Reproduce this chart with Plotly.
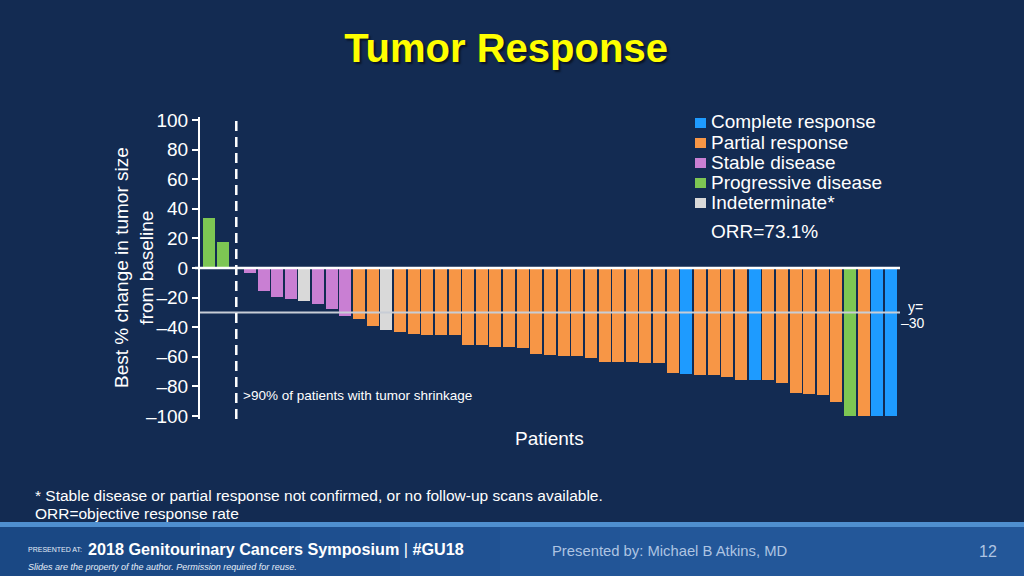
import plotly.graph_objects as go

# ---------------- data ----------------
categories = ["PD", "PD",
              "SD", "SD", "SD", "SD", "IND", "SD", "SD", "SD",
              "PR", "PR", "IND", "PR", "PR", "PR", "PR", "PR",
              "PR", "PR", "PR", "PR", "PR", "PR", "PR", "PR", "PR", "PR",
              "PR", "PR", "PR", "PR", "PR", "PR",
              "CR", "PR", "PR", "PR", "PR", "CR", "PR", "PR",
              "PR", "PR", "PR", "PR", "PD", "PR", "CR", "CR"]
values = [33.5, 17.4,
          -3.6, -15.4, -19.7, -21.0, -22.0, -24.0, -28.0, -32.4,
          -34.5, -39.0, -41.7, -43.5, -44.8, -45.0, -45.2, -45.2,
          -52.0, -52.0, -53.2, -53.5, -54.0, -58.0, -58.6, -59.7, -59.7, -60.8,
          -63.3, -63.3, -63.3, -64.2, -64.2, -70.7,
          -71.4, -72.0, -72.0, -73.4, -75.8, -75.8, -75.8, -77.9,
          -84.4, -85.0, -85.7, -90.5, -100.0, -100.0, -100.0, -100.0]

legend_keys = ["CR", "PR", "SD", "PD", "IND"]
legend_labels = ["Complete response", "Partial response", "Stable disease",
                 "Progressive disease", "Indeterminate*"]
colors = {"CR": "#1e9bff", "PR": "#f79646", "SD": "#c97fd3",
          "PD": "#7dc653", "IND": "#d9d9d9"}

y_tickvals = [100, 80, 60, 40, 20, 0, -20, -40, -60, -80, -100]
y_ticktext = ["100", "80", "60", "40", "20", "0",
              "\u201320", "\u201340", "\u201360", "\u201380", "\u2013100"]

ORR_TEXT = "ORR=73.1%"
THRESHOLD = -30
DIVIDER_AFTER = 2  # number of bars before the dashed divider

# ---------------- layout helpers ----------------
BG = "#132b52"
WHITE = "#ffffff"
FONT = "Liberation Sans, Arial, sans-serif"
NARROW = "Liberation Sans Narrow, Arial Narrow, Liberation Sans, sans-serif"
L, R, T, B = 200, 124, 117, 157
W, H = 1024, 576
PW, PH = W - L - R, H - T - B


def pxx(x):
    return (x - L) / PW


def pxy(y):
    return (H - B - y) / PH


# bar slot positions: one empty slot where the dashed divider sits
positions = [i if i < DIVIDER_AFTER else i + 1 for i in range(len(values))]

fig = go.Figure()
for key, label in zip(legend_keys, legend_labels):
    xs = [p for p, c in zip(positions, categories) if c == key]
    ys = [v for v, c in zip(values, categories) if c == key]
    fig.add_bar(x=xs, y=ys, name=label, width=0.88,
                marker=dict(color=colors[key], line=dict(width=0)),
                showlegend=False, hovertemplate="%{y}%<extra>" + label + "</extra>")

shapes = []
# footer band (stepped horizontal gradient)
shapes.append(dict(type="rect", xref="paper", yref="paper",
                   x0=pxx(-2), x1=pxx(W + 2), y0=pxy(H + 2), y1=pxy(524),
                   fillcolor="#1a4884", line=dict(width=0), layer="below"))
steps = [(200, 0.12), (300, 0.12), (400, 0.12), (500, 0.12), (620, 0.1)]
for x0, op in steps:
    shapes.append(dict(type="rect", xref="paper", yref="paper",
                       x0=pxx(x0), x1=pxx(W + 2), y0=pxy(H + 2), y1=pxy(524),
                       fillcolor="#2f6fb5", opacity=op, line=dict(width=0), layer="below"))
shapes.append(dict(type="rect", xref="paper", yref="paper",
                   x0=pxx(-2), x1=pxx(W + 2), y0=pxy(527), y1=pxy(522),
                   fillcolor="#4f8fcf", line=dict(width=0), layer="below"))
# zero line
shapes.append(dict(type="line", xref="paper", yref="y", x0=pxx(195), x1=1,
                   y0=0, y1=0, line=dict(color=WHITE, width=2.5), layer="above"))
# -30 threshold line
shapes.append(dict(type="line", xref="paper", yref="y", x0=0, x1=1,
                   y0=THRESHOLD, y1=THRESHOLD, line=dict(color="#c8cdd6", width=2),
                   layer="above"))
# dashed divider
shapes.append(dict(type="line", xref="x", yref="paper", x0=DIVIDER_AFTER, x1=DIVIDER_AFTER,
                   y0=0, y1=1, line=dict(color=WHITE, width=2.5, dash="10px,6px"),
                   layer="above"))

annotations = []


def ann(text, x, y, size, color=WHITE, family=FONT, xanchor="left", yanchor="middle", **kw):
    annotations.append(dict(text=text, xref="paper", yref="paper", x=pxx(x), y=pxy(y),
                            xanchor=xanchor, yanchor=yanchor, showarrow=False,
                            font=dict(size=size, color=color, family=family), **kw))


# custom legend
leg_y = [123, 143, 163, 183, 203]
for key, label, yy in zip(legend_keys, legend_labels, leg_y):
    shapes.append(dict(type="rect", xref="paper", yref="paper",
                       x0=pxx(695), x1=pxx(706), y0=pxy(yy + 5), y1=pxy(yy - 5),
                       fillcolor=colors[key], line=dict(width=0)))
    ann(label, 709, yy - 1, 19)
ann(ORR_TEXT, 709, 231, 19)

# axis titles
ann("Best % change in tumor size<br>from baseline", 134, 268, 19,
    xanchor="center", textangle=-90)
ann("Patients", 549, 438, 19, xanchor="center")
ann(">90% of patients with tumor shrinkage", 241, 395, 13.5)
ann("y=", 915, 307, 14, xanchor="center")
ann("\u201330", 913, 323, 14, xanchor="center")

# footnotes
ann("* Stable disease or partial response not confirmed, or no follow-up scans available.",
    33, 495, 15.5, family=NARROW)
ann("ORR=objective response rate", 33, 513, 15.5, family=NARROW)

# footer texts
ann("PRESENTED AT:", 26, 549, 7, family=NARROW, color="#e6eef8")
ann("<b>2018 Genitourinary Cancers Symposium</b> | <b>#GU18</b>", 86, 549, 16.2,
    family=NARROW)
ann("<i>Slides are the property of the author. Permission required for reuse.</i>",
    26, 567, 9, family=NARROW, color="#e6eef8")
ann("Presented by: Michael B Atkins, MD", 550, 551, 14.8, family=NARROW, color="#aec4e2")
ann("12", 988, 551, 16, family=NARROW, color="#aec4e2", xanchor="center")

fig.update_layout(
    width=W, height=H,
    margin=dict(l=L, r=R, t=T, b=B, autoexpand=False),
    paper_bgcolor=BG, plot_bgcolor=BG,
    bargap=0, barmode="overlay",
    title=dict(text="<b>Tumor Response</b>", x=506 / W, xanchor="center",
               y=1 - 48 / H, yanchor="middle",
               font=dict(size=40, color="#ffff00", family=FONT,
                         shadow="2px 2px 2px rgba(0,0,0,0.55)")),
    xaxis=dict(range=[-0.66, 50.66], showgrid=False, zeroline=False,
               showticklabels=False, showline=False, ticks=""),
    yaxis=dict(range=[-102, 102], tickvals=y_tickvals, ticktext=y_ticktext,
               showgrid=False, zeroline=False, showline=True, linecolor=WHITE,
               linewidth=2, ticks="outside", ticklen=6, tickwidth=2,
               tickcolor=WHITE, tickfont=dict(size=19, color=WHITE, family=FONT)),
    shapes=shapes, annotations=annotations,
    showlegend=False,
    font=dict(family=FONT, color=WHITE),
)

fig.write_html("out.html", config={"displayModeBar": False},
               post_script="document.body.style.margin='0';")
